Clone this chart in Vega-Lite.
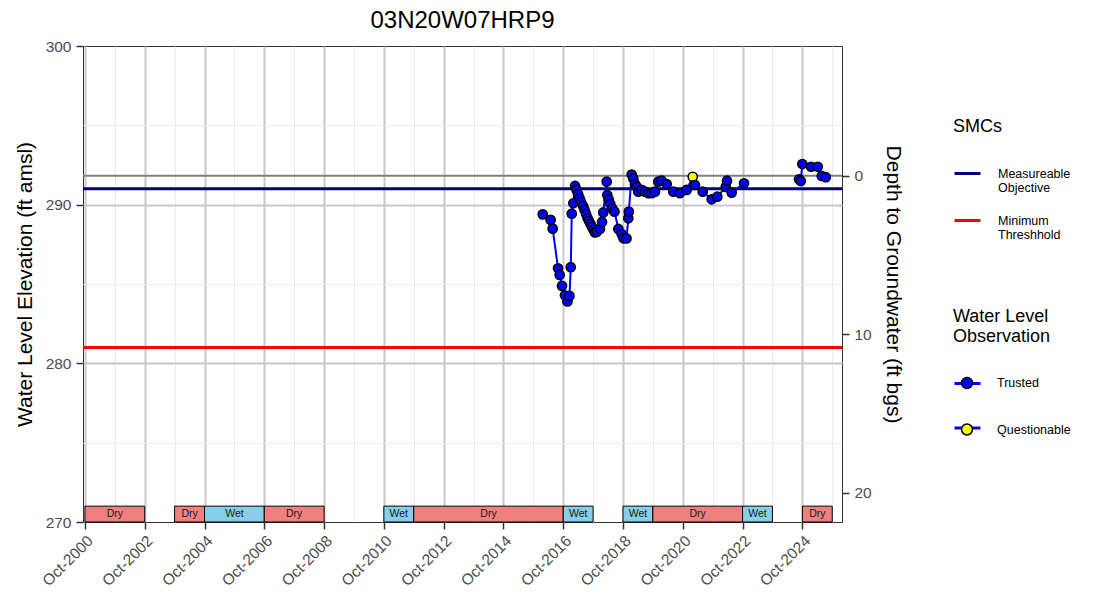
{
  "$schema": "https://vega.github.io/schema/vega-lite/v6.json",
  "width": 759,
  "height": 476,
  "autosize": {"type": "none"},
  "padding": {"left": 83, "top": 46, "right": 254, "bottom": 77},
  "background": "white",
  "title": {"text": "03N20W07HRP9", "fontSize": 24, "fontWeight": "normal", "color": "black", "anchor": "middle", "offset": 6},
  "config": {
    "font": "Liberation Sans",
    "view": {"stroke": "#333333", "strokeWidth": 1},
    "axis": {"labelFontSize": 15.5, "labelColor": "#4D4D4D", "tickColor": "#333333", "tickWidth": 1.5, "tickSize": 7, "labelPadding": 5, "domain": false, "titleFontSize": 21, "titleFontWeight": "normal", "titleColor": "black", "gridColor": "#C8C8C8", "gridWidth": 2},
    "legend": {"padding": 0, "titleFontWeight": "normal", "titleColor": "black", "labelColor": "black", "labelLimit": 0}
  },
  "datasets": {
    "obs": [
      {"date": "2016-01-24", "elev": 289.39, "status": "Trusted", "run": 1},
      {"date": "2016-04-30", "elev": 289.04, "status": "Trusted", "run": 1},
      {"date": "2016-05-25", "elev": 288.49, "status": "Trusted", "run": 1},
      {"date": "2016-07-29", "elev": 285.99, "status": "Trusted", "run": 1},
      {"date": "2016-08-18", "elev": 285.57, "status": "Trusted", "run": 1},
      {"date": "2016-09-16", "elev": 284.88, "status": "Trusted", "run": 1},
      {"date": "2016-10-22", "elev": 284.29, "status": "Trusted", "run": 1},
      {"date": "2016-11-21", "elev": 283.90, "status": "Trusted", "run": 1},
      {"date": "2016-12-16", "elev": 284.25, "status": "Trusted", "run": 1},
      {"date": "2017-01-01", "elev": 286.06, "status": "Trusted", "run": 1},
      {"date": "2017-01-13", "elev": 289.43, "status": "Trusted", "run": 1},
      {"date": "2017-02-01", "elev": 290.09, "status": "Trusted", "run": 1},
      {"date": "2017-02-22", "elev": 291.18, "status": "Trusted", "run": 1},
      {"date": "2017-03-13", "elev": 290.93, "status": "Trusted", "run": 1},
      {"date": "2017-03-31", "elev": 290.67, "status": "Trusted", "run": 1},
      {"date": "2017-04-18", "elev": 290.42, "status": "Trusted", "run": 1},
      {"date": "2017-05-06", "elev": 290.17, "status": "Trusted", "run": 1},
      {"date": "2017-05-31", "elev": 289.92, "status": "Trusted", "run": 1},
      {"date": "2017-06-18", "elev": 289.67, "status": "Trusted", "run": 1},
      {"date": "2017-07-07", "elev": 289.41, "status": "Trusted", "run": 1},
      {"date": "2017-07-25", "elev": 289.16, "status": "Trusted", "run": 1},
      {"date": "2017-08-12", "elev": 288.97, "status": "Trusted", "run": 1},
      {"date": "2017-08-30", "elev": 288.78, "status": "Trusted", "run": 1},
      {"date": "2017-09-18", "elev": 288.59, "status": "Trusted", "run": 1},
      {"date": "2017-10-06", "elev": 288.41, "status": "Trusted", "run": 1},
      {"date": "2017-10-24", "elev": 288.25, "status": "Trusted", "run": 1},
      {"date": "2017-11-14", "elev": 288.28, "status": "Trusted", "run": 1},
      {"date": "2017-12-24", "elev": 288.47, "status": "Trusted", "run": 1},
      {"date": "2018-01-18", "elev": 288.91, "status": "Trusted", "run": 1},
      {"date": "2018-02-02", "elev": 289.51, "status": "Trusted", "run": 1},
      {"date": "2018-03-16", "elev": 291.45, "status": "Trusted", "run": 1},
      {"date": "2018-03-23", "elev": 290.61, "status": "Trusted", "run": 1},
      {"date": "2018-04-10", "elev": 290.33, "status": "Trusted", "run": 1},
      {"date": "2018-04-29", "elev": 290.04, "status": "Trusted", "run": 1},
      {"date": "2018-05-23", "elev": 289.76, "status": "Trusted", "run": 1},
      {"date": "2018-06-19", "elev": 289.56, "status": "Trusted", "run": 1},
      {"date": "2018-08-05", "elev": 288.47, "status": "Trusted", "run": 1},
      {"date": "2018-09-15", "elev": 288.15, "status": "Trusted", "run": 1},
      {"date": "2018-10-07", "elev": 287.88, "status": "Trusted", "run": 1},
      {"date": "2018-11-13", "elev": 287.87, "status": "Trusted", "run": 1},
      {"date": "2018-12-05", "elev": 289.14, "status": "Trusted", "run": 1},
      {"date": "2018-12-11", "elev": 289.56, "status": "Trusted", "run": 1},
      {"date": "2019-01-15", "elev": 291.90, "status": "Trusted", "run": 1},
      {"date": "2019-02-04", "elev": 291.65, "status": "Trusted", "run": 1},
      {"date": "2019-02-25", "elev": 291.30, "status": "Trusted", "run": 1},
      {"date": "2019-03-17", "elev": 291.13, "status": "Trusted", "run": 1},
      {"date": "2019-04-06", "elev": 290.82, "status": "Trusted", "run": 1},
      {"date": "2019-05-18", "elev": 290.93, "status": "Trusted", "run": 1},
      {"date": "2019-06-27", "elev": 290.82, "status": "Trusted", "run": 1},
      {"date": "2019-08-06", "elev": 290.72, "status": "Trusted", "run": 1},
      {"date": "2019-09-17", "elev": 290.72, "status": "Trusted", "run": 1},
      {"date": "2019-10-27", "elev": 290.82, "status": "Trusted", "run": 1},
      {"date": "2019-12-06", "elev": 291.45, "status": "Trusted", "run": 1},
      {"date": "2020-01-17", "elev": 291.51, "status": "Trusted", "run": 1},
      {"date": "2020-03-18", "elev": 291.30, "status": "Trusted", "run": 1},
      {"date": "2020-06-07", "elev": 290.82, "status": "Trusted", "run": 1},
      {"date": "2020-08-27", "elev": 290.72, "status": "Trusted", "run": 1},
      {"date": "2020-11-17", "elev": 290.93, "status": "Trusted", "run": 1},
      {"date": "2021-01-30", "elev": 291.76, "status": "Questionable", "run": 1},
      {"date": "2021-02-27", "elev": 291.24, "status": "Trusted", "run": 1},
      {"date": "2021-06-01", "elev": 290.82, "status": "Trusted", "run": 1},
      {"date": "2021-09-19", "elev": 290.34, "status": "Trusted", "run": 1},
      {"date": "2021-11-27", "elev": 290.50, "status": "Trusted", "run": 1},
      {"date": "2022-03-10", "elev": 291.12, "status": "Trusted", "run": 1},
      {"date": "2022-03-25", "elev": 291.51, "status": "Trusted", "run": 1},
      {"date": "2022-05-21", "elev": 290.76, "status": "Trusted", "run": 1},
      {"date": "2022-10-19", "elev": 291.35, "status": "Trusted", "run": 1},
      {"date": "2024-08-21", "elev": 291.60, "status": "Trusted", "run": 2},
      {"date": "2024-09-11", "elev": 291.49, "status": "Trusted", "run": 2},
      {"date": "2024-09-30", "elev": 292.56, "status": "Trusted", "run": 2},
      {"date": "2025-01-15", "elev": 292.39, "status": "Trusted", "run": 2},
      {"date": "2025-04-07", "elev": 292.39, "status": "Trusted", "run": 2},
      {"date": "2025-05-26", "elev": 291.81, "status": "Trusted", "run": 2},
      {"date": "2025-07-14", "elev": 291.73, "status": "Trusted", "run": 2}
    ],
    "bands": [
      {"start": "2000-10-01", "end": "2002-10-01", "type": "Dry"},
      {"start": "2003-10-01", "end": "2004-10-01", "type": "Dry"},
      {"start": "2004-10-01", "end": "2006-10-01", "type": "Wet"},
      {"start": "2006-10-01", "end": "2008-10-01", "type": "Dry"},
      {"start": "2010-10-01", "end": "2011-10-01", "type": "Wet"},
      {"start": "2011-10-01", "end": "2016-10-01", "type": "Dry"},
      {"start": "2016-10-01", "end": "2017-10-01", "type": "Wet"},
      {"start": "2018-10-01", "end": "2019-10-01", "type": "Wet"},
      {"start": "2019-10-01", "end": "2022-10-01", "type": "Dry"},
      {"start": "2022-10-01", "end": "2023-10-01", "type": "Wet"},
      {"start": "2024-10-01", "end": "2025-10-01", "type": "Dry"}
    ],
    "smc": [
      {"name": "Measureable Objective", "value": 291.0},
      {"name": "Minimum Threshhold", "value": 281.0}
    ],
    "ground": [{"depth": 0}]
  },
  "layer": [
    {
      "data": {"name": "ground"},
      "mark": {"type": "rule", "color": "#7F7F7F", "strokeWidth": 2},
      "encoding": {
        "y": {"field": "depth", "type": "quantitative",
          "scale": {"domain": [-8.17, 21.83], "reverse": true, "nice": false, "zero": false},
          "axis": {"orient": "right", "values": [0, 10, 20], "grid": false, "title": "Depth to Groundwater (ft bgs)", "titlePadding": 11}}
      }
    },
    {
      "layer": [
        {
          "data": {"name": "bands", "format": {"parse": {"start": "date", "end": "date"}}},
          "mark": {"type": "rect", "stroke": "black", "strokeWidth": 1},
          "encoding": {
            "x": {"field": "start", "type": "temporal",
              "scale": {"type": "utc", "domain": [{"year": 2000, "month": 9, "date": 7, "utc": true}, {"year": 2026, "month": 1, "date": 28, "utc": true}]},
              "axis": {"orient": "top", "values": [
                {"year": 2001, "month": 10, "date": 1, "utc": true}, {"year": 2003, "month": 10, "date": 1, "utc": true},
                {"year": 2005, "month": 10, "date": 1, "utc": true}, {"year": 2007, "month": 10, "date": 1, "utc": true},
                {"year": 2009, "month": 10, "date": 1, "utc": true}, {"year": 2011, "month": 10, "date": 1, "utc": true},
                {"year": 2013, "month": 10, "date": 1, "utc": true}, {"year": 2015, "month": 10, "date": 1, "utc": true},
                {"year": 2017, "month": 10, "date": 1, "utc": true}, {"year": 2019, "month": 10, "date": 1, "utc": true},
                {"year": 2021, "month": 10, "date": 1, "utc": true}, {"year": 2023, "month": 10, "date": 1, "utc": true},
                {"year": 2025, "month": 10, "date": 1, "utc": true}],
                "grid": true, "gridColor": "#EBEBEB", "gridWidth": 1, "labels": false, "ticks": false, "domain": false, "title": null}},
            "x2": {"field": "end"},
            "y": {"datum": 271, "type": "quantitative", "scale": {"domain": [270, 300], "nice": false, "zero": false}, "axis": null},
            "y2": {"datum": 270},
            "fill": {"field": "type", "type": "nominal", "scale": {"domain": ["Dry", "Wet"], "range": ["#F08080", "#87CEEB"]}, "legend": null}
          }
        },
        {
          "data": {"name": "bands", "format": {"parse": {"start": "date", "end": "date"}}},
          "transform": [{"fold": ["start", "end"], "as": ["edge", "when"]}],
          "mark": {"type": "text", "fontSize": 10.5, "color": "#1A1A1A", "baseline": "middle", "align": "center"},
          "encoding": {
            "x": {"field": "when", "type": "temporal", "aggregate": "mean", "axis": null},
            "y": {"datum": 270.5, "type": "quantitative", "axis": null},
            "detail": {"field": "start", "type": "nominal"},
            "text": {"field": "type", "type": "nominal"}
          }
        },
        {
          "data": {"name": "smc"},
          "mark": {"type": "rule", "strokeWidth": 3},
          "encoding": {
            "y": {"field": "value", "type": "quantitative", "axis": null},
            "color": {"field": "name", "type": "nominal",
              "scale": {"domain": ["Measureable Objective", "Minimum Threshhold"], "range": ["#000080", "#FF0000"]},
              "legend": {"title": "SMCs", "orient": "none", "legendX": 870, "legendY": 72, "symbolType": "stroke", "symbolSize": 676, "symbolStrokeWidth": 3, "labelFontSize": 12.5, "labelOffset": 16, "labelExpr": "split(datum.label, ' ')", "titleFontSize": 18, "titlePadding": 23, "rowPadding": 11}}
          }
        },
        {
          "data": {"name": "obs"},
          "mark": {"type": "line", "strokeWidth": 2},
          "encoding": {
            "x": {"field": "date", "type": "temporal", "axis": null},
            "y": {"field": "elev", "type": "quantitative",
              "axis": {"orient": "right", "values": [275, 285, 295], "grid": true, "gridColor": "#EBEBEB", "gridWidth": 1, "labels": false, "ticks": false, "domain": false, "title": null}},
            "detail": {"field": "run", "type": "nominal"},
            "stroke": {"datum": "Trusted", "type": "nominal",
              "scale": {"domain": ["Trusted", "Questionable"], "range": ["#0000FF", "#0000FF"]},
              "legend": {"title": ["Water Level", "Observation"], "orient": "none", "legendX": 870, "legendY": 262, "symbolType": "stroke", "symbolSize": 676, "symbolStrokeWidth": 3, "labelFontSize": 12.5, "labelOffset": 16, "titleFontSize": 18, "titleLineHeight": 20, "titlePadding": 23, "rowPadding": 23.5, "titleOpacity": 0, "labelOpacity": 0, "zindex": 1}}
          }
        },
        {
          "data": {"name": "obs"},
          "mark": {"type": "circle", "size": 85, "stroke": "black", "strokeWidth": 1.5, "opacity": 1},
          "encoding": {
            "x": {"field": "date", "type": "temporal",
              "axis": {"orient": "bottom", "values": [
                {"year": 2000, "month": 10, "date": 1, "utc": true}, {"year": 2002, "month": 10, "date": 1, "utc": true},
                {"year": 2004, "month": 10, "date": 1, "utc": true}, {"year": 2006, "month": 10, "date": 1, "utc": true},
                {"year": 2008, "month": 10, "date": 1, "utc": true}, {"year": 2010, "month": 10, "date": 1, "utc": true},
                {"year": 2012, "month": 10, "date": 1, "utc": true}, {"year": 2014, "month": 10, "date": 1, "utc": true},
                {"year": 2016, "month": 10, "date": 1, "utc": true}, {"year": 2018, "month": 10, "date": 1, "utc": true},
                {"year": 2020, "month": 10, "date": 1, "utc": true}, {"year": 2022, "month": 10, "date": 1, "utc": true},
                {"year": 2024, "month": 10, "date": 1, "utc": true}],
                "format": "%b-%Y", "labelAngle": -45, "labelAlign": "right", "labelBaseline": "top", "labelPadding": 4, "grid": true, "title": null}},
            "y": {"field": "elev", "type": "quantitative",
              "axis": {"orient": "left", "values": [270, 280, 290, 300], "title": "Water Level Elevation (ft amsl)", "grid": true,
                "gridOpacity": {"condition": {"test": "datum.value == 270 || datum.value == 300", "value": 0}, "value": 1},
                "titlePadding": 10}},
            "fill": {"field": "status", "type": "nominal", "sort": "descending",
              "scale": {"range": ["#0000FF", "#FFFF00"]},
              "legend": {"title": ["Water Level", "Observation"], "orient": "none", "legendX": 870, "legendY": 262, "symbolType": "M0.42,0A0.42,0.42,0,1,1,-0.42,0A0.42,0.42,0,1,1,0.42,0Z", "symbolSize": 676, "symbolStrokeColor": "black", "symbolStrokeWidth": 1.5, "labelFontSize": 12.5, "labelOffset": 16, "titleFontSize": 18, "titleLineHeight": 20, "titlePadding": 23, "rowPadding": 23.5, "zindex": 2}}
          }
        }
      ],
      "resolve": {"scale": {"fill": "independent"}}
    }
  ],
  "resolve": {"scale": {"y": "independent"}}
}
